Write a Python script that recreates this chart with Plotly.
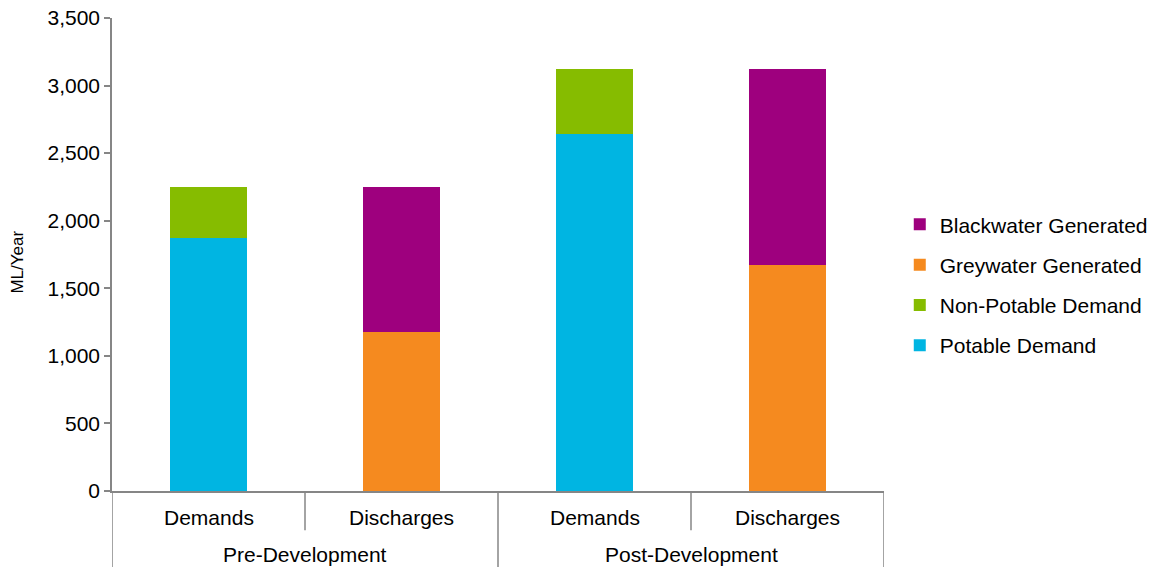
import plotly.graph_objects as go

groups = ["Pre-Development", "Pre-Development", "Post-Development", "Post-Development"]
subs = ["Demands", "Discharges", "Demands", "Discharges"]
group_labels = ["Pre-Development", "Post-Development"]

potable = [1875, 0, 2645, 0]
non_potable = [375, 0, 480, 0]
greywater = [0, 1175, 0, 1670]
blackwater = [0, 1075, 0, 1455]

series = [
    ("Potable Demand", potable, "#00B5E2"),
    ("Non-Potable Demand", non_potable, "#86BC00"),
    ("Greywater Generated", greywater, "#F58A1F"),
    ("Blackwater Generated", blackwater, "#9E007E"),
]

ytick_vals = [0, 500, 1000, 1500, 2000, 2500, 3000, 3500]
ytick_text = ["0", "500", "1,000", "1,500", "2,000", "2,500", "3,000", "3,500"]

xpos = list(range(len(subs)))
FONT = "Liberation Sans, Arial, sans-serif"
AX = "#868686"
FS = 21

fig = go.Figure()
n = len(series)
for k, (name, vals, col) in enumerate(series):
    fig.add_trace(go.Bar(
        x=xpos, y=vals, name=name, marker=dict(color=col, line=dict(width=0)),
        width=0.4, legendgroup=name, legendrank=1000 + (n - k),
    ))

fig.update_layout(
    barmode="stack",
    width=1158, height=567,
    margin=dict(l=112, r=274, t=18, b=76, autoexpand=False),
    plot_bgcolor="white", paper_bgcolor="white",
    font=dict(family=FONT, size=FS, color="#000000"),
    showlegend=True,
    legend=dict(
        xref="container", yref="container",
        x=0.777, xanchor="left", y=0.497, yanchor="middle",
        traceorder="grouped", tracegroupgap=10,
        font=dict(size=FS), itemwidth=30,
    ),
    xaxis=dict(
        range=[-0.5, 3.5], showticklabels=False, showgrid=False, zeroline=False,
        showline=True, linecolor=AX, linewidth=1.5, ticks="", automargin=False,
    ),
    yaxis=dict(
        range=[0, 3500], tickvals=ytick_vals, ticktext=ytick_text,
        showgrid=False, zeroline=False, showline=True, linecolor=AX, linewidth=1.5,
        ticks="outside", ticklen=6, tickcolor=AX, tickwidth=1.5,
        tickfont=dict(size=FS), automargin=False,
    ),
)

shapes = []
for xb in [0.5, 2.5]:
    shapes.append(dict(type="line", xref="x", yref="paper", x0=xb, x1=xb, y0=0, y1=-0.083,
                       line=dict(color=AX, width=1.5)))
for xb in [-0.5, 1.5, 3.5]:
    shapes.append(dict(type="line", xref="x", yref="paper", x0=xb, x1=xb, y0=0, y1=-0.17,
                       line=dict(color=AX, width=1.5)))
fig.update_layout(shapes=shapes)

for i, s in enumerate(subs):
    fig.add_annotation(x=i, y=-0.0557, xref="x", yref="paper", text=s, showarrow=False,
                       font=dict(size=FS), xanchor="center", yanchor="middle")
for j, g in enumerate(group_labels):
    fig.add_annotation(x=0.5 + 2 * j, y=-0.134, xref="x", yref="paper", text=g, showarrow=False,
                       font=dict(size=FS), xanchor="center", yanchor="middle")

fig.add_annotation(x=-0.1218, y=0.485, xref="paper", yref="paper", text="ML/Year",
                   textangle=-90, showarrow=False, font=dict(size=17),
                   xanchor="center", yanchor="middle")

fig.write_html("out.html")
